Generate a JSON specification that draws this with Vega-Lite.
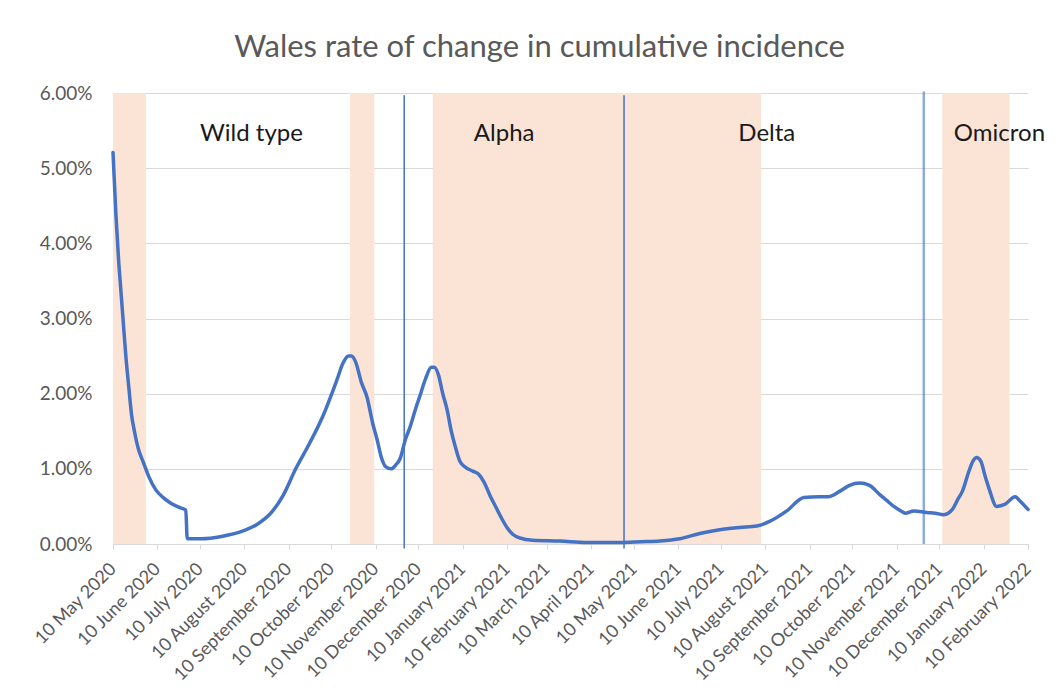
{
  "$schema": "https://vega.github.io/schema/vega-lite/v6.json",
  "width": 915,
  "height": 451,
  "autosize": "none",
  "padding": {"left": 113, "top": 93, "right": 30, "bottom": 148},
  "background": "white",
  "title": {
    "text": "Wales rate of change in cumulative incidence",
    "font": "Lato",
    "fontSize": 31,
    "fontWeight": "normal",
    "color": "#595959",
    "anchor": "middle",
    "dx": -31,
    "offset": 20
  },
  "config": {
    "view": {"stroke": null},
    "axis": {"labelFont": "Lato", "labelColor": "#595959", "titleFont": "Lato"}
  },
  "datasets": {
    "series": [
      {"date": "2020-05-10", "rate": 0.0521},
      {"date": "2020-05-12", "rate": 0.0440},
      {"date": "2020-05-14", "rate": 0.0375},
      {"date": "2020-05-15", "rate": 0.0350},
      {"date": "2020-05-17", "rate": 0.0300},
      {"date": "2020-05-19", "rate": 0.0250},
      {"date": "2020-05-21", "rate": 0.0210},
      {"date": "2020-05-23", "rate": 0.0172},
      {"date": "2020-05-25", "rate": 0.0150},
      {"date": "2020-05-28", "rate": 0.0125},
      {"date": "2020-05-31", "rate": 0.0110},
      {"date": "2020-06-04", "rate": 0.0090},
      {"date": "2020-06-09", "rate": 0.0072},
      {"date": "2020-06-14", "rate": 0.0062},
      {"date": "2020-06-19", "rate": 0.0055},
      {"date": "2020-06-25", "rate": 0.0049},
      {"date": "2020-06-30", "rate": 0.0045},
      {"date": "2020-07-01", "rate": 0.0007},
      {"date": "2020-07-11", "rate": 0.0007},
      {"date": "2020-07-25", "rate": 0.0010},
      {"date": "2020-08-10", "rate": 0.0018},
      {"date": "2020-08-18", "rate": 0.0025},
      {"date": "2020-08-24", "rate": 0.0033},
      {"date": "2020-08-28", "rate": 0.0040},
      {"date": "2020-09-06", "rate": 0.0064},
      {"date": "2020-09-15", "rate": 0.0100},
      {"date": "2020-09-25", "rate": 0.0135},
      {"date": "2020-10-04", "rate": 0.0170},
      {"date": "2020-10-14", "rate": 0.0219},
      {"date": "2020-10-18", "rate": 0.0240},
      {"date": "2020-10-22", "rate": 0.0250},
      {"date": "2020-10-24", "rate": 0.0250},
      {"date": "2020-10-27", "rate": 0.0242},
      {"date": "2020-10-31", "rate": 0.0215},
      {"date": "2020-11-04", "rate": 0.0195},
      {"date": "2020-11-08", "rate": 0.0160},
      {"date": "2020-11-11", "rate": 0.0139},
      {"date": "2020-11-14", "rate": 0.0115},
      {"date": "2020-11-17", "rate": 0.0103},
      {"date": "2020-11-21", "rate": 0.0100},
      {"date": "2020-11-24", "rate": 0.0105},
      {"date": "2020-11-27", "rate": 0.0113},
      {"date": "2020-12-01", "rate": 0.0140},
      {"date": "2020-12-04", "rate": 0.0155},
      {"date": "2020-12-08", "rate": 0.0180},
      {"date": "2020-12-11", "rate": 0.0197},
      {"date": "2020-12-15", "rate": 0.0220},
      {"date": "2020-12-19", "rate": 0.0235},
      {"date": "2020-12-21", "rate": 0.0235},
      {"date": "2020-12-24", "rate": 0.0225},
      {"date": "2020-12-27", "rate": 0.0200},
      {"date": "2020-12-30", "rate": 0.0179},
      {"date": "2021-01-02", "rate": 0.0150},
      {"date": "2021-01-05", "rate": 0.0128},
      {"date": "2021-01-08", "rate": 0.0110},
      {"date": "2021-01-12", "rate": 0.0102},
      {"date": "2021-01-17", "rate": 0.0097},
      {"date": "2021-01-21", "rate": 0.0093},
      {"date": "2021-01-25", "rate": 0.0082},
      {"date": "2021-01-29", "rate": 0.0065},
      {"date": "2021-02-02", "rate": 0.0050},
      {"date": "2021-02-06", "rate": 0.0035},
      {"date": "2021-02-10", "rate": 0.0022},
      {"date": "2021-02-14", "rate": 0.0013},
      {"date": "2021-02-19", "rate": 0.0008},
      {"date": "2021-02-28", "rate": 0.0005},
      {"date": "2021-03-19", "rate": 0.0004},
      {"date": "2021-04-07", "rate": 0.0002},
      {"date": "2021-04-30", "rate": 0.0002},
      {"date": "2021-05-15", "rate": 0.0003},
      {"date": "2021-05-28", "rate": 0.0004},
      {"date": "2021-06-11", "rate": 0.0007},
      {"date": "2021-06-25", "rate": 0.0014},
      {"date": "2021-07-09", "rate": 0.0019},
      {"date": "2021-07-23", "rate": 0.0022},
      {"date": "2021-08-04", "rate": 0.0024},
      {"date": "2021-08-13", "rate": 0.0030},
      {"date": "2021-08-25", "rate": 0.0044},
      {"date": "2021-09-06", "rate": 0.0062},
      {"date": "2021-09-17", "rate": 0.0063},
      {"date": "2021-09-23", "rate": 0.0063},
      {"date": "2021-10-01", "rate": 0.0070},
      {"date": "2021-10-08", "rate": 0.0078},
      {"date": "2021-10-15", "rate": 0.0081},
      {"date": "2021-10-22", "rate": 0.0078},
      {"date": "2021-10-29", "rate": 0.0066},
      {"date": "2021-11-03", "rate": 0.0058},
      {"date": "2021-11-08", "rate": 0.0050},
      {"date": "2021-11-13", "rate": 0.0044},
      {"date": "2021-11-16", "rate": 0.0041},
      {"date": "2021-11-22", "rate": 0.0044},
      {"date": "2021-12-01", "rate": 0.0042},
      {"date": "2021-12-07", "rate": 0.0041},
      {"date": "2021-12-13", "rate": 0.0039},
      {"date": "2021-12-19", "rate": 0.0046},
      {"date": "2021-12-23", "rate": 0.0060},
      {"date": "2021-12-26", "rate": 0.0070},
      {"date": "2021-12-31", "rate": 0.0099},
      {"date": "2022-01-03", "rate": 0.0112},
      {"date": "2022-01-05", "rate": 0.0115},
      {"date": "2022-01-08", "rate": 0.0110},
      {"date": "2022-01-11", "rate": 0.0090},
      {"date": "2022-01-14", "rate": 0.0072},
      {"date": "2022-01-19", "rate": 0.0050},
      {"date": "2022-01-25", "rate": 0.0053},
      {"date": "2022-02-01", "rate": 0.0063},
      {"date": "2022-02-04", "rate": 0.0058},
      {"date": "2022-02-10", "rate": 0.0046}
    ],
    "bands": [
      {"start": "2020-05-10", "end": "2020-06-02"},
      {"start": "2020-10-23", "end": "2020-11-09"},
      {"start": "2020-12-20", "end": "2021-08-07"},
      {"start": "2021-12-12", "end": "2022-01-28"}
    ],
    "events": [
      {"date": "2020-11-30", "kind": "a"},
      {"date": "2021-05-03", "kind": "a"},
      {"date": "2021-11-29", "kind": "b"}
    ],
    "labels": [
      {"date": "2020-08-15", "variant": "Wild type"},
      {"date": "2021-02-08", "variant": "Alpha"},
      {"date": "2021-08-11", "variant": "Delta"},
      {"date": "2022-01-21", "variant": "Omicron"}
    ]
  },
  "layer": [
    {
      "data": {"name": "bands"},
      "mark": {"type": "rect", "color": "#FBE3D5"},
      "encoding": {
        "x": {
          "field": "start",
          "type": "temporal",
          "title": null,
          "scale": {
            "type": "utc",
            "domain": [
              {"year": 2020, "month": 5, "date": 10, "utc": true},
              {"year": 2022, "month": 2, "date": 10, "utc": true}
            ],
            "nice": false
          },
          "axis": {
            "values": [
              {"year": 2020, "month": 5, "date": 10, "utc": true},
              {"year": 2020, "month": 6, "date": 10, "utc": true},
              {"year": 2020, "month": 7, "date": 10, "utc": true},
              {"year": 2020, "month": 8, "date": 10, "utc": true},
              {"year": 2020, "month": 9, "date": 10, "utc": true},
              {"year": 2020, "month": 10, "date": 10, "utc": true},
              {"year": 2020, "month": 11, "date": 10, "utc": true},
              {"year": 2020, "month": 12, "date": 10, "utc": true},
              {"year": 2021, "month": 1, "date": 10, "utc": true},
              {"year": 2021, "month": 2, "date": 10, "utc": true},
              {"year": 2021, "month": 3, "date": 10, "utc": true},
              {"year": 2021, "month": 4, "date": 10, "utc": true},
              {"year": 2021, "month": 5, "date": 10, "utc": true},
              {"year": 2021, "month": 6, "date": 10, "utc": true},
              {"year": 2021, "month": 7, "date": 10, "utc": true},
              {"year": 2021, "month": 8, "date": 10, "utc": true},
              {"year": 2021, "month": 9, "date": 10, "utc": true},
              {"year": 2021, "month": 10, "date": 10, "utc": true},
              {"year": 2021, "month": 11, "date": 10, "utc": true},
              {"year": 2021, "month": 12, "date": 10, "utc": true},
              {"year": 2022, "month": 1, "date": 10, "utc": true},
              {"year": 2022, "month": 2, "date": 10, "utc": true}
            ],
            "labelExpr": "utcFormat(datum.value, '%d %B %Y')",
            "labelAngle": -45,
            "labelAlign": "right",
            "labelBaseline": "middle",
            "labelFontSize": 18,
            "labelPadding": 17,
            "labelOverlap": false,
            "labelBound": false,
            "labelFlush": false,
            "grid": false,
            "domainColor": "#d9d9d9",
            "tickColor": "#d9d9d9",
            "tickSize": 5
          }
        },
        "x2": {"field": "end"},
        "y": {
          "datum": 0,
          "type": "quantitative",
          "title": null,
          "scale": {"domain": [0, 0.06], "nice": false, "zero": true},
          "axis": {
            "values": [0, 0.01, 0.02, 0.03, 0.04, 0.05, 0.06],
            "format": ".2%",
            "labelFontSize": 19,
            "labelPadding": 21,
            "domain": false,
            "ticks": false,
            "grid": true,
            "gridColor": "#d9d9d9",
            "gridWidth": 1
          }
        },
        "y2": {"datum": 0.06}
      }
    },
    {
      "data": {"name": "events"},
      "transform": [{"filter": "datum.kind == 'a'"}],
      "mark": {"type": "rule", "color": "#4472C4", "strokeWidth": 1.5},
      "encoding": {
        "x": {"field": "date", "type": "temporal", "title": null},
        "y": {"datum": 0.0597, "type": "quantitative", "title": null},
        "y2": {"datum": -0.0006}
      }
    },
    {
      "data": {"name": "events"},
      "transform": [{"filter": "datum.kind == 'b'"}],
      "mark": {"type": "rule", "color": "#4472C4", "strokeWidth": 2.5, "opacity": 0.6},
      "encoding": {
        "x": {"field": "date", "type": "temporal", "title": null},
        "y": {"datum": 0.0602, "type": "quantitative", "title": null},
        "y2": {"datum": 0}
      }
    },
    {
      "data": {"name": "series"},
      "mark": {"type": "line", "color": "#4472C4", "strokeWidth": 3.5, "interpolate": "monotone", "strokeJoin": "round", "strokeCap": "round"},
      "encoding": {
        "x": {"field": "date", "type": "temporal", "title": null},
        "y": {"field": "rate", "type": "quantitative", "title": null}
      }
    },
    {
      "data": {"name": "labels"},
      "mark": {"type": "text", "font": "Lato", "fontSize": 24, "color": "#1a1a1a", "align": "center", "baseline": "middle"},
      "encoding": {
        "x": {"field": "date", "type": "temporal", "title": null},
        "y": {"datum": 0.0545, "type": "quantitative", "title": null},
        "text": {"field": "variant"}
      }
    }
  ]
}
